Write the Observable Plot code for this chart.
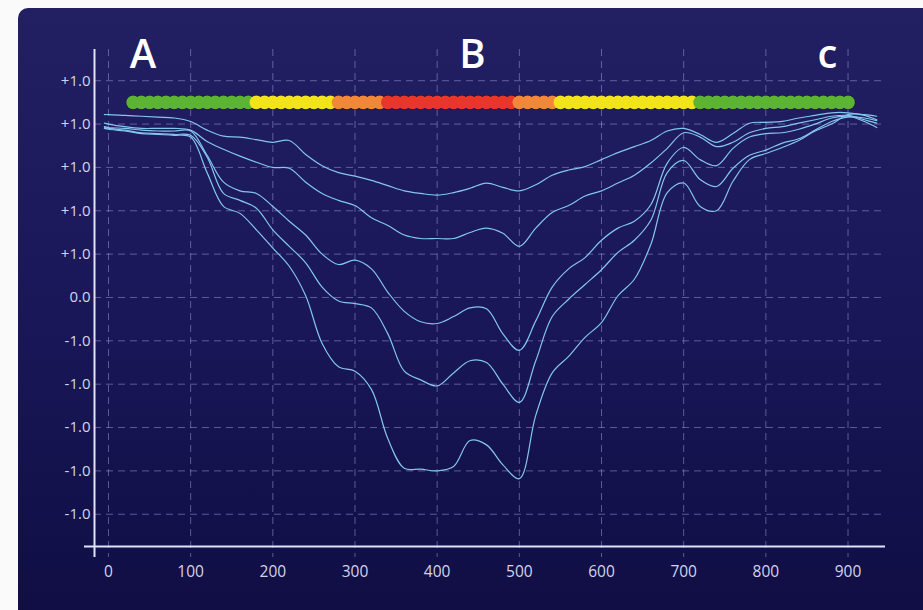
<!DOCTYPE html>
<html>
<head>
<meta charset="utf-8">
<script src="https://cdn.jsdelivr.net/npm/d3@7"></script>
<script src="https://cdn.jsdelivr.net/npm/@observablehq/plot@0.6"></script>
<style>
  html, body { margin: 0; padding: 0; background: #fafafa; width: 923px; height: 610px; overflow: hidden; }
  #panel { position: absolute; left: 18px; top: 8px; width: 905px; height: 602px;
    border-radius: 10px 0 0 0; overflow: hidden;
    background: linear-gradient(180deg, #221f62 0%, #1a185a 45%, #100e44 100%); }
  #panel svg { display: block; }
</style>
</head>
<body>
<div id="panel"></div>
<script>
// ---- data ----
const xs = [-5, 0, 20, 40, 60, 80, 100, 120, 140, 160, 180, 200, 220, 240, 260, 280, 300, 320, 340, 360, 380, 400,
  420, 440, 460, 480, 500, 520, 540, 560, 580, 600, 620, 640, 660, 680, 700, 720, 740, 760, 780, 800, 820, 840, 860,
  880, 900, 920, 935];

const series1 = [2.11,2.11,2.10,2.09,2.08,2.07,2.03,1.93,1.86,1.85,1.82,1.79,1.81,1.65,1.52,1.44,1.40,1.35,1.29,1.23,1.20,1.18,1.21,1.26,1.32,1.27,1.23,1.30,1.41,1.47,1.51,1.59,1.67,1.74,1.81,1.92,1.95,1.88,1.79,1.89,2.01,2.02,2.03,2.07,2.10,2.13,2.13,2.10,2.05];
const series2 = [2.01,2.00,1.97,1.95,1.95,1.95,1.93,1.80,1.71,1.63,1.56,1.50,1.49,1.33,1.20,1.12,1.06,0.92,0.83,0.72,0.68,0.68,0.68,0.75,0.80,0.74,0.59,0.80,0.98,1.06,1.17,1.23,1.32,1.41,1.55,1.72,1.90,1.85,1.74,1.79,1.90,1.95,1.97,2.01,2.05,2.09,2.10,2.05,2.01];
const series3 = [1.97,1.96,1.95,1.93,1.92,1.92,1.92,1.64,1.33,1.23,1.20,1.05,0.88,0.72,0.50,0.38,0.43,0.33,0.06,-0.16,-0.28,-0.30,-0.22,-0.12,-0.13,-0.42,-0.61,-0.27,0.12,0.33,0.46,0.66,0.80,0.88,1.07,1.55,1.73,1.59,1.52,1.72,1.85,1.89,1.90,1.94,2.00,2.07,2.09,2.03,1.96];
const series4 = [1.96,1.95,1.93,1.90,1.89,1.88,1.87,1.62,1.20,1.12,1.03,0.78,0.59,0.40,0.12,-0.04,-0.07,-0.12,-0.42,-0.85,-0.95,-1.02,-0.87,-0.73,-0.75,-1.00,-1.21,-0.73,-0.22,-0.02,0.15,0.32,0.52,0.66,0.89,1.44,1.58,1.36,1.28,1.49,1.64,1.70,1.78,1.83,1.93,2.03,2.08,2.07,2.04];
const series5 = [1.95,1.94,1.92,1.89,1.88,1.87,1.85,1.44,1.05,0.97,0.78,0.57,0.36,0.02,-0.53,-0.80,-0.85,-1.06,-1.63,-1.97,-1.98,-2.00,-1.95,-1.65,-1.70,-1.93,-2.09,-1.36,-0.87,-0.68,-0.46,-0.29,0.02,0.21,0.61,1.21,1.32,1.05,1.00,1.34,1.59,1.66,1.73,1.81,1.92,2.00,2.11,2.11,2.09];

// status bar (one dot per sample)
const barX = [30,40,50,60,70,80,90,100,110,120,130,140,150,160,170,
  180,190,200,210,220,230,240,250,260,270,
  280,290,300,310,320,330,
  340,350,360,370,380,390,400,410,420,430,440,450,460,470,480,490,
  500,510,520,530,540,
  550,560,570,580,590,600,610,620,630,640,650,660,670,680,690,700,710,
  720,730,740,750,760,770,780,790,800,810,820,830,840,850,860,870,880,890,900];
const barLevel = [
  "G","G","G","G","G","G","G","G","G","G","G","G","G","G","G",
  "Y","Y","Y","Y","Y","Y","Y","Y","Y","Y",
  "O","O","O","O","O","O",
  "R","R","R","R","R","R","R","R","R","R","R","R","R","R","R","R",
  "O","O","O","O","O",
  "Y","Y","Y","Y","Y","Y","Y","Y","Y","Y","Y","Y","Y","Y","Y","Y","Y",
  "G","G","G","G","G","G","G","G","G","G","G","G","G","G","G","G","G","G","G"];
const barValue = 2.25;
const levelNames = ["G", "Y", "O", "R"];
const levelColors = ["#5db433", "#f1e41b", "#f2873a", "#e8372a"];

// section labels
const sectionLabels = ["A", "B", "c"];
const sectionX = [42, 443, 875];
const sectionValue = 2.80;

// axes
const xDomain = [-17, 945.6];
const yDomain = [-2.872, 2.860];
const xTicks = [0, 100, 200, 300, 400, 500, 600, 700, 800, 900];
const yTicks = [2.5, 2, 1.5, 1, 0.5, 0, -0.5, -1, -1.5, -2, -2.5];
const yTickLabels = ["+1.0","+1.0","+1.0","+1.0","+1.0","0.0","-1.0","-1.0","-1.0","-1.0","-1.0"];

// ---- build tables ----
const allSeries = [series1, series2, series3, series4, series5];
const lineRows = [];
allSeries.forEach((s, k) => s.forEach((v, i) => lineRows.push({series: k, x: xs[i], y: v})));
const barRows = barX.map((x, i) => ({x, y: barValue, level: barLevel[i]}));
const labelRows = sectionLabels.map((t, i) => ({x: sectionX[i], y: sectionValue, text: t}));

const gridColor = "#a79fe0";
const axisColor = "#e2e2f8";

const chart = Plot.plot({
  width: 905,
  height: 602,
  marginLeft: 76,
  marginRight: 38,
  marginTop: 41,
  marginBottom: 64,
  x: {domain: xDomain, label: null},
  y: {domain: yDomain, label: null},
  color: {domain: levelNames, range: levelColors},
  style: {background: "transparent", color: "#d3d4ea", fontFamily: "'Open Sans', 'Noto Sans', sans-serif", fontSize: "15px"},
  marks: [
    Plot.ruleY(yTicks, {stroke: gridColor, strokeOpacity: 0.5, strokeDasharray: "7,5", strokeWidth: 1}),
    Plot.ruleX(xTicks, {stroke: gridColor, strokeOpacity: 0.5, strokeDasharray: "7,5", strokeWidth: 1, insetBottom: -11}),
    Plot.ruleX([xDomain[0]], {stroke: axisColor, strokeWidth: 2, insetBottom: -11}),
    Plot.ruleY([yDomain[0]], {stroke: axisColor, strokeWidth: 2, insetLeft: -10}),
    Plot.line(lineRows, {x: "x", y: "y", z: "series", stroke: "#84c6ec", strokeWidth: 1.2, curve: "catmull-rom"}),
    Plot.dot(barRows, {x: "x", y: "y", r: 7.3, fill: "#0c0b2c", fillOpacity: 0.6}),
    Plot.dot(barRows, {x: "x", y: "y", r: 6.8, fill: "level"}),
    Plot.text(labelRows, {x: "x", y: "y", text: "text", fontSize: 40, fontWeight: 600, fill: "white"}),
    Plot.axisX(xTicks, {tickSize: 0, tickPadding: 19, fontSize: 15.5, label: null}),
    Plot.axisY(yTicks, {tickSize: 0, tickPadding: 4, fontSize: 15, label: null, tickFormat: d => yTickLabels[yTicks.indexOf(d)]})
  ]
});
document.getElementById("panel").appendChild(chart);
</script>
</body>
</html>
